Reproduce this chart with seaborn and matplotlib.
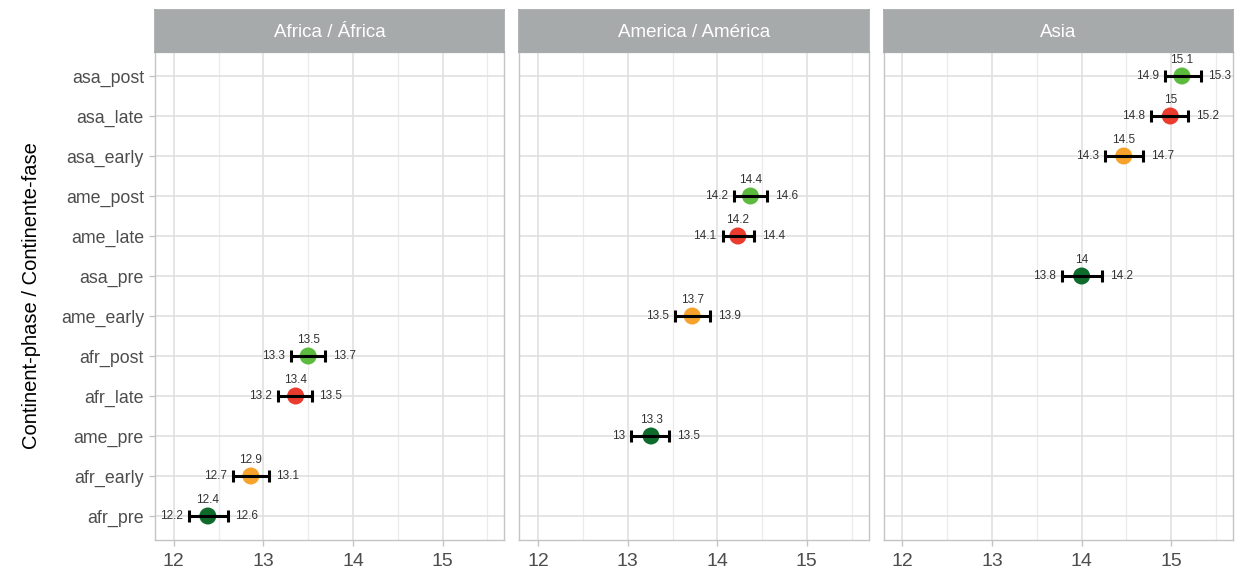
import matplotlib
matplotlib.use("Agg")
import matplotlib.pyplot as plt
import seaborn as sns
import pandas as pd
from matplotlib.ticker import MultipleLocator, FixedLocator

# Continent-phase estimates with their intervals, ordered bottom to top
categories = ["afr_pre", "afr_early", "ame_pre", "afr_late", "afr_post", "ame_early",
              "asa_pre", "ame_late", "ame_post", "asa_early", "asa_late", "asa_post"]
means = [12.38, 12.86, 13.26, 13.36, 13.50, 13.72, 14.00, 14.23, 14.37, 14.47, 14.99, 15.12]
lowers = [12.17, 12.66, 13.04, 13.16, 13.31, 13.53, 13.78, 14.06, 14.19, 14.26, 14.78, 14.93]
uppers = [12.60, 13.06, 13.46, 13.54, 13.69, 13.92, 14.23, 14.41, 14.56, 14.69, 15.19, 15.33]

panel_codes = ["afr", "ame", "asa"]
panel_titles = ["Africa / África", "America / América", "Asia"]
phase_order = ["pre", "early", "late", "post"]
phase_colors = ["#0f6b2c", "#f7a22c", "#ea3b2e", "#5cbb3f"]
x_ticks = [12, 13, 14, 15]

df = pd.DataFrame({"category": categories, "mean": means, "lower": lowers, "upper": uppers})
df["continent"] = df["category"].str.split("_").str[0]
df["phase"] = df["category"].str.split("_").str[1]
df["ypos"] = range(1, len(categories) + 1)

sns.set_theme(style="white")
plt.rcParams["font.family"] = ["Liberation Sans", "DejaVu Sans"]

W, H = 1235, 572
fig, axes = plt.subplots(1, 3, figsize=(W / 100, H / 100), dpi=100, sharey=True)
fig.subplots_adjust(left=155 / W, right=1233 / W, bottom=1 - 540 / H, top=1 - 52 / H,
                    wspace=15 / 349.3)

palette = dict(zip(phase_order, phase_colors))


def fmt(v):
    return f"{round(v, 1):g}"


for i, (ax, code, title) in enumerate(zip(axes, panel_codes, panel_titles)):
    sub = df[df["continent"] == code]
    ax.set_axisbelow(True)
    sns.scatterplot(data=sub, x="mean", y="ypos", hue="phase", palette=palette,
                    hue_order=phase_order, s=150, linewidth=0, legend=False,
                    ax=ax, zorder=3)
    ax.errorbar(sub["mean"], sub["ypos"],
                xerr=[sub["mean"] - sub["lower"], sub["upper"] - sub["mean"]],
                fmt="none", ecolor="black", elinewidth=2.2, capsize=4.6,
                capthick=2.2, zorder=4)
    for _, r in sub.iterrows():
        ax.annotate(fmt(r["mean"]), (r["mean"], r["ypos"]), xytext=(0, 11.5),
                    textcoords="offset points", ha="center", va="center",
                    fontsize=8.5, color="#333333")
        ax.annotate(fmt(r["lower"]), (r["lower"], r["ypos"]), xytext=(-4.5, 0),
                    textcoords="offset points", ha="right", va="center",
                    fontsize=8.5, color="#333333")
        ax.annotate(fmt(r["upper"]), (r["upper"], r["ypos"]), xytext=(5.5, 0),
                    textcoords="offset points", ha="left", va="center",
                    fontsize=8.5, color="#333333")

    ax.set_xlim(11.79, 15.69)
    ax.set_ylim(0.4, len(categories) + 0.6)
    ax.xaxis.set_major_locator(FixedLocator(x_ticks))
    ax.xaxis.set_minor_locator(MultipleLocator(0.5))
    ax.set_yticks(df["ypos"])
    ax.set_yticklabels(categories)
    ax.grid(which="major", color="#e0e0e0", linewidth=1.2)
    ax.grid(which="minor", axis="x", color="#ebebeb", linewidth=0.9)
    ax.set_xlabel("")
    ax.set_ylabel("")
    for sp in ax.spines.values():
        sp.set_color("#c4c4c4")
        sp.set_linewidth(1.0)
    ax.tick_params(axis="x", which="major", bottom=True, length=4, width=1,
                   color="#c4c4c4", labelsize=14, labelcolor="#4d4d4d", pad=5)
    ax.tick_params(axis="x", which="minor", bottom=False)
    if i == 0:
        ax.tick_params(axis="y", left=True, length=4, width=1, color="#c4c4c4",
                       labelsize=12.8, labelcolor="#4d4d4d", pad=4)
    else:
        ax.tick_params(axis="y", left=False)

    # facet strip on top of the panel
    pos = ax.get_position()
    strip = fig.add_axes([pos.x0, pos.y1, pos.width, 42 / H])
    strip.set_facecolor("#a7aaaa")
    strip.set_xticks([])
    strip.set_yticks([])
    for sp in strip.spines.values():
        sp.set_color("#a7aaaa")
    strip.text(0.5, 0.47, title, ha="center", va="center", color="white",
               fontsize=13.5, transform=strip.transAxes)

axes[0].set_ylabel("Continent-phase / Continente-fase", fontsize=14.5,
                   color="black", labelpad=14)

fig.savefig("out.png", dpi=100)
